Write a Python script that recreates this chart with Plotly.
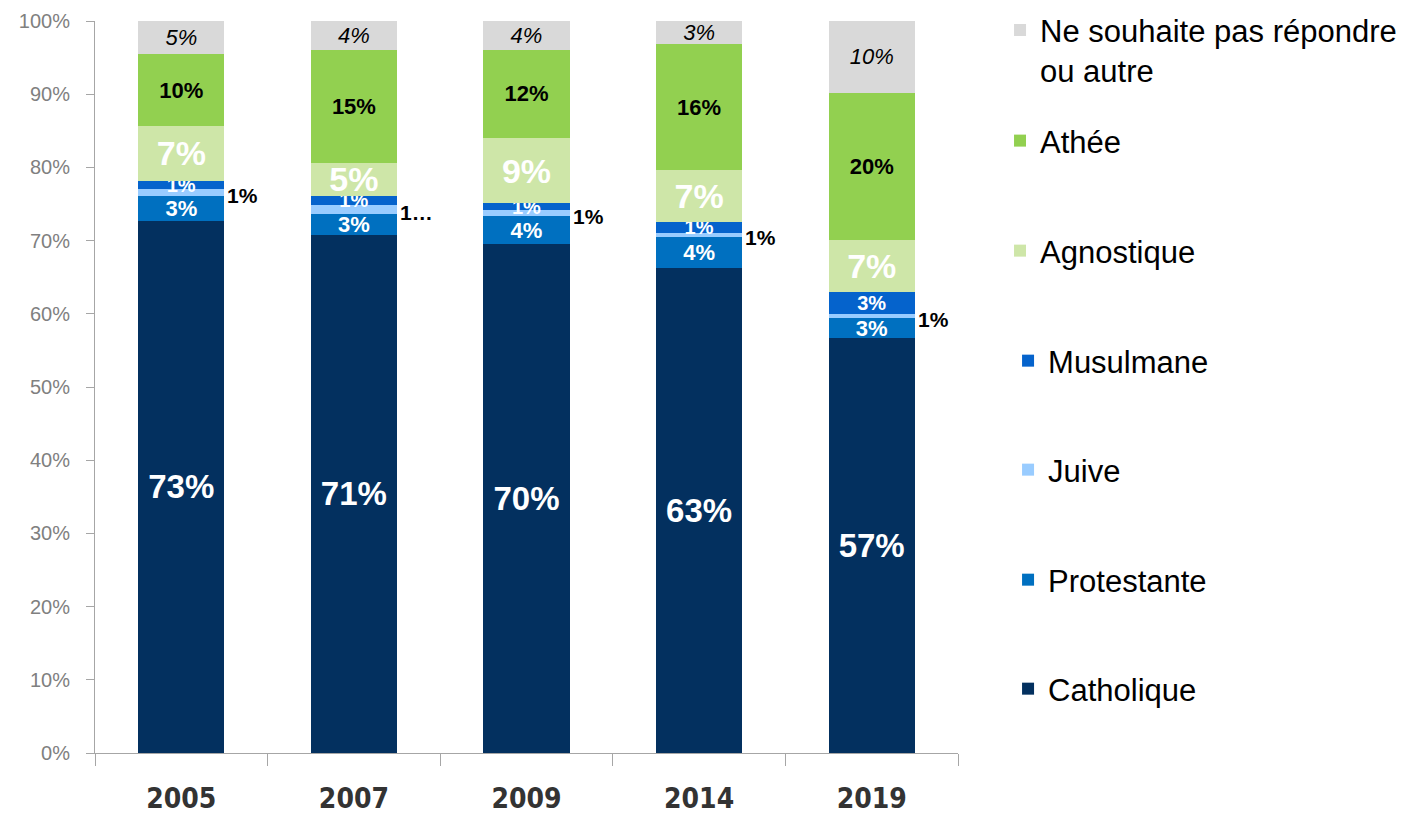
import plotly.graph_objects as go

years = ["2005", "2007", "2009", "2014", "2019"]

catholique = [72.7, 70.8, 69.5, 66.3, 56.7]
protestante = [3.4, 2.9, 3.8, 4.2, 2.7]
juive = [0.9, 1.2, 0.9, 0.6, 0.6]
musulmane = [1.2, 1.2, 0.9, 1.4, 3.0]
agnostique = [7.4, 4.5, 8.9, 7.2, 7.1]
athee = [9.9, 15.4, 12.1, 17.1, 20.1]
autre = [4.5, 4.0, 3.9, 3.2, 9.8]

lbl_catholique = ["73%", "71%", "70%", "63%", "57%"]
lbl_protestante = ["3%", "3%", "4%", "4%", "3%"]
lbl_juive = ["1%", "1…", "1%", "1%", "1%"]
lbl_musulmane = ["1%", "1%", "1%", "1%", "3%"]
lbl_agnostique = ["7%", "5%", "9%", "7%", "7%"]
lbl_athee = ["10%", "15%", "12%", "16%", "20%"]
lbl_autre = ["5%", "4%", "4%", "3%", "10%"]

FONT = "Liberation Sans, Arial, sans-serif"

series = [
    ("Catholique", catholique, lbl_catholique, "#03305F", dict(size=33, color="white", family=FONT, weight="bold")),
    ("Protestante", protestante, lbl_protestante, "#0070C0", dict(size=22, color="white", family=FONT, weight="bold")),
    ("Juive", juive, None, "#99CCFF", None),
    ("Musulmane", musulmane, lbl_musulmane, "#0563CC", dict(size=20, color="white", family=FONT, weight="bold")),
    ("Agnostique", agnostique, lbl_agnostique, "#CEE6A8", dict(size=34, color="white", family=FONT, weight="bold")),
    ("Athée", athee, lbl_athee, "#92D050", dict(size=22, color="black", family=FONT, weight="bold")),
    ("Ne souhaite pas répondre<br>ou autre", autre, lbl_autre, "#D9D9D9", dict(size=22, color="black", family=FONT, style="italic")),
]

# legend placement (paper coords): one legend per entry to reproduce the spacing
legend_pos = [
    (1.0580, 0.1243),
    (1.0580, 0.2732),
    (1.0580, 0.4235),
    (1.0580, 0.5724),
    (1.0487, 0.7227),
    (1.0487, 0.8730),
    (1.0487, 1.0240),
]

fig = go.Figure()
layout_legends = {}
for i, (name, vals, lbls, color, tf) in enumerate(series):
    kw = {}
    if lbls is not None:
        kw = dict(text=lbls, textposition="inside", insidetextanchor="middle",
                  textangle=0, constraintext="none", textfont=tf, texttemplate="%{text}")
    lname = "legend" if i == 0 else f"legend{i + 1}"
    fig.add_trace(go.Bar(
        name=name, x=years, y=vals, marker=dict(color=color, line=dict(width=0)),
        legend=lname, hoverinfo="skip", **kw
    ))
    lx, ly = legend_pos[i]
    layout_legends[lname] = dict(
        x=lx, xanchor="left", y=ly, yanchor="top", valign="top",
        font=dict(size=31, color="black", family=FONT),
        bgcolor="rgba(0,0,0,0)", itemwidth=30, maxheight=814,
    )

# Juive labels placed to the right of each bar (x given as category index)
for idx, (c, p, j, lab) in enumerate(zip(catholique, protestante, juive, lbl_juive)):
    fig.add_annotation(x=idx, y=c + p + j / 2, text=f"<b>{lab}</b>", showarrow=False,
                       xanchor="left", yanchor="middle", xshift=44, yshift=-3,
                       font=dict(size=21, color="black", family=FONT))

fig.update_layout(
    barmode="stack",
    bargap=0.5,
    width=1409, height=814,
    margin=dict(l=87, r=459, t=13, b=69, autoexpand=False),
    plot_bgcolor="white", paper_bgcolor="white",
    font=dict(family=FONT),
    showlegend=True,
    **layout_legends,
)

fig.update_xaxes(
    type="category", range=[-0.5, 4.5], showline=True, linecolor="#A6A6A6", linewidth=1,
    ticks="outside", tickson="boundaries", ticklen=12, tickcolor="#A6A6A6",
    tickfont=dict(size=28, color="#333333", family="Liberation Sans Narrow, DejaVu Sans Condensed, Arial Narrow, sans-serif", weight="bold"),
    ticklabelstandoff=20, showgrid=False, automargin=False,
)
fig.update_yaxes(
    range=[0, 100], dtick=10, ticksuffix="%", showgrid=False, zeroline=False,
    showline=True, linecolor="#A6A6A6", linewidth=1,
    ticks="outside", ticklen=8, tickcolor="#A6A6A6",
    tickfont=dict(size=20, color="#808080", family=FONT),
    ticklabelstandoff=12, automargin=False,
)

fig.write_html("out.html")
